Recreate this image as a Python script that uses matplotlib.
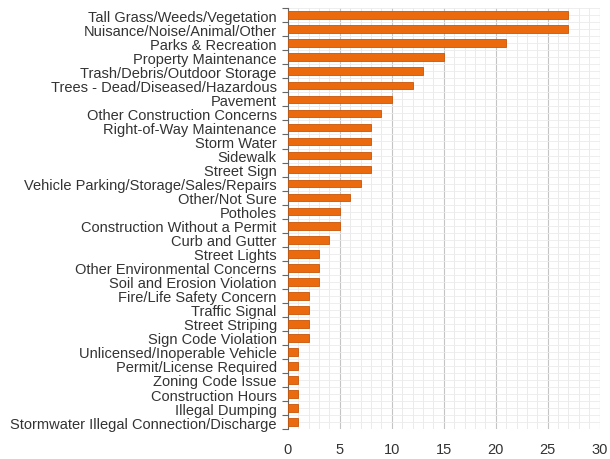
import numpy as np
import matplotlib.pyplot as plt
from matplotlib.ticker import MultipleLocator, FixedLocator

plt.rcParams['font.family'] = ['Liberation Sans', 'DejaVu Sans']

categories = [
    "Tall Grass/Weeds/Vegetation",
    "Nuisance/Noise/Animal/Other",
    "Parks & Recreation",
    "Property Maintenance",
    "Trash/Debris/Outdoor Storage",
    "Trees - Dead/Diseased/Hazardous",
    "Pavement",
    "Other Construction Concerns",
    "Right-of-Way Maintenance",
    "Storm Water",
    "Sidewalk",
    "Street Sign",
    "Vehicle Parking/Storage/Sales/Repairs",
    "Other/Not Sure",
    "Potholes",
    "Construction Without a Permit",
    "Curb and Gutter",
    "Street Lights",
    "Other Environmental Concerns",
    "Soil and Erosion Violation",
    "Fire/Life Safety Concern",
    "Traffic Signal",
    "Street Striping",
    "Sign Code Violation",
    "Unlicensed/Inoperable Vehicle",
    "Permit/License Required",
    "Zoning Code Issue",
    "Construction Hours",
    "Illegal Dumping",
    "Stormwater Illegal Connection/Discharge",
]
counts = [27, 27, 21, 15, 13, 12, 10, 9, 8, 8, 8, 8, 7, 6, 5, 5,
          4, 3, 3, 3, 2, 2, 2, 2, 1, 1, 1, 1, 1, 1]
x_ticks = [0, 5, 10, 15, 20, 25, 30]

fig = plt.figure(figsize=(6.1, 4.6), dpi=100)
ax = fig.add_axes([0.472, 0.065, 0.511, 0.915])

y = np.arange(len(categories))
ax.barh(y, counts, height=0.55, color="#ec6a0e", edgecolor="#c85508",
        linewidth=0.6, zorder=3)

ax.set_ylim(len(categories) - 0.5, -0.5)
ax.set_xlim(0, 30)
ax.set_yticks(y)
ax.set_yticklabels(categories, fontsize=10.5, color="#333333")
ax.yaxis.set_minor_locator(FixedLocator(np.arange(-0.5, len(categories), 1)))
ax.tick_params(axis='y', which='major', length=0, pad=8)
ax.tick_params(axis='y', which='minor', length=4, color="#666666", width=0.8)

ax.set_xticks(x_ticks)
ax.xaxis.set_minor_locator(MultipleLocator(1))
ax.tick_params(axis='x', which='both', length=0, labelsize=10.5,
               labelcolor="#333333", pad=9)

# light background grid: vertical every 1 (darker every 5), horizontal every half row
ax.grid(axis='x', which='major', color="#c4c4c4", linewidth=0.8, zorder=0)
ax.grid(axis='x', which='minor', color="#e8e8e8", linewidth=0.6, zorder=0)
ax.grid(axis='y', which='both', color="#ebebeb", linewidth=0.6, zorder=0)

for side in ['top', 'right', 'bottom']:
    ax.spines[side].set_visible(False)
ax.spines['left'].set_color("#666666")
ax.spines['left'].set_linewidth(0.8)

fig.savefig("out.png", dpi=100)
